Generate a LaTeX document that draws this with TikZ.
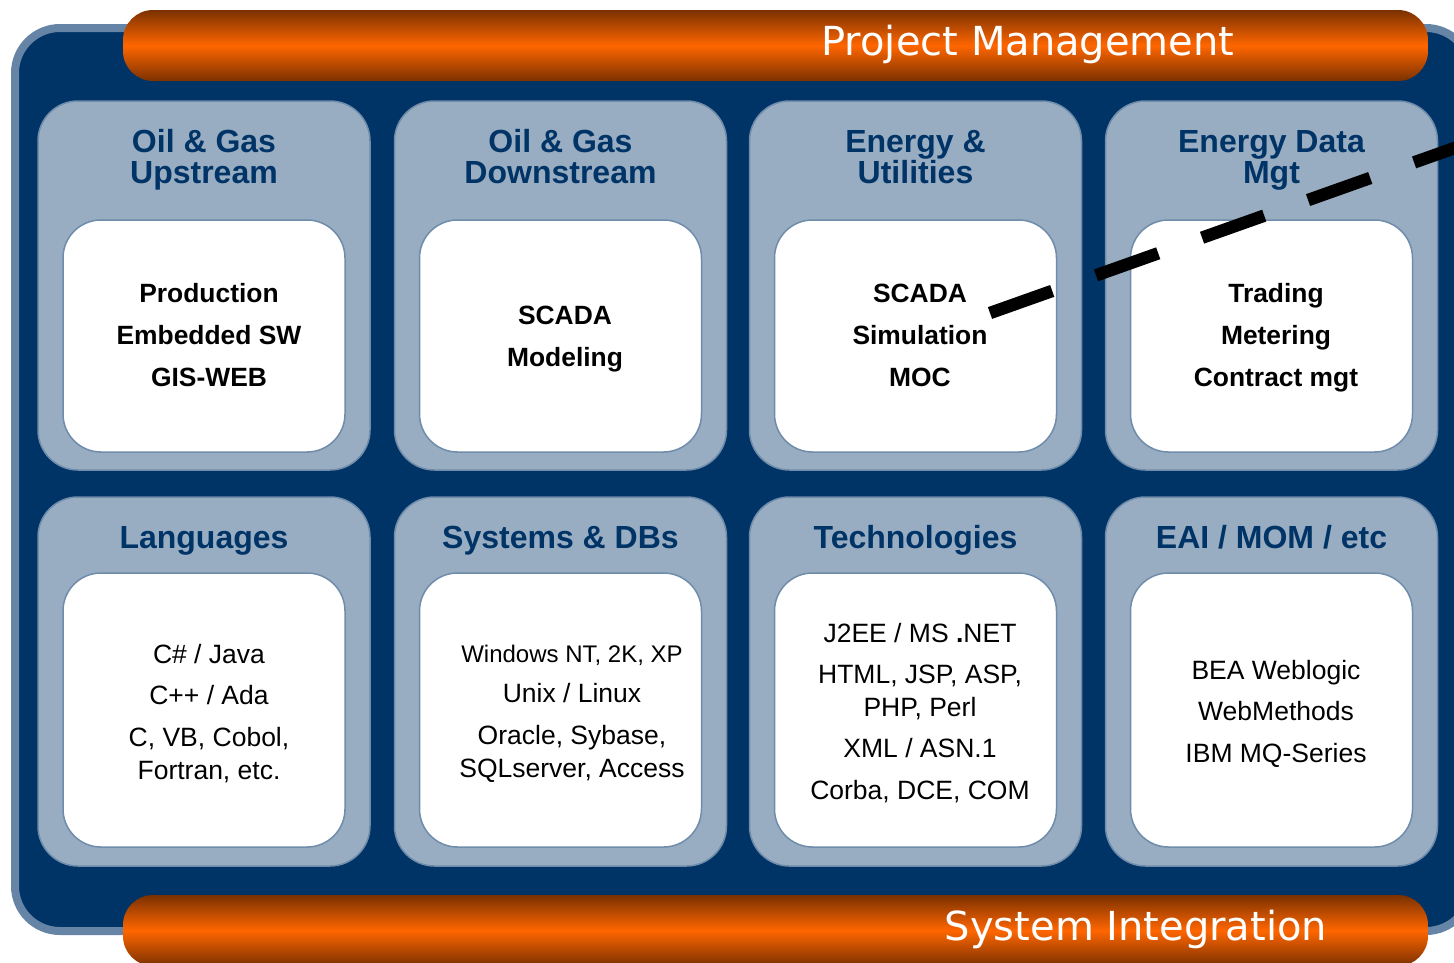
\documentclass[tikz,border=0pt]{standalone}
\usepackage{fontspec}
\setmainfont{Liberation Sans}
\newfontfamily\barfont{DejaVu Sans}
\definecolor{navy}{HTML}{003366}
\definecolor{rim}{HTML}{6685A6}
\definecolor{panelfill}{HTML}{98ADC2}
\definecolor{panelrim}{HTML}{6F8CAB}
\definecolor{orangemid}{HTML}{FF6600}
\definecolor{orangedark}{HTML}{7A3000}
\tikzset{
  panel/.style={rectangle, rounded corners=40, fill=panelfill, draw=panelrim, line width=1.5,
    minimum width=332, minimum height=369, inner sep=0},
  innerbox/.style={rectangle, rounded corners=38, fill=white, draw=panelrim, line width=1.5,
    minimum width=282, inner sep=0},
  title/.style={text=navy, font=\bfseries\fontsize{32}{31}\selectfont, align=center},
  boldtxt/.style={text=black, font=\bfseries\fontsize{26.4}{42}\selectfont, align=center},
  plaintxt/.style={text=black, font=\fontsize{26.5}{33}\selectfont, align=center},
  bar/.style={rectangle, rounded corners=30, minimum width=1305, minimum height=71, inner sep=0,
    top color=orangedark, bottom color=orangedark, middle color=orangemid},
  bartext/.style={text=white, font=\barfont\fontsize{40}{40}\selectfont, anchor=base},
  dashline/.style={line width=12.5, dash pattern=on 66 off 46.5, line cap=butt}
}
\begin{document}
\begin{tikzpicture}[x=1pt,y=-1pt]
\useasboundingbox (0,0) rectangle (1454,962);
\clip (0,0) rectangle (1454,962);
% outer frame
\draw[fill=navy, draw=rim, line width=8, rounded corners=45] (15,28) rectangle (1471,931);
% bars
\node[bar] (pm) at (775.5,45.5) {};
\node[bar] (si) at (775.5,930.5) {};
\node[bartext] (pmtext) at (1028,55) {Project Management};
\node[bartext] (sitext) at (1136,940) {System Integration};
% panels row 1
\node[panel] (p1) at (204,285.5) {};
\node[panel] (p2) at (560.5,285.5) {};
\node[panel] (p3) at (915.5,285.5) {};
\node[panel] (p4) at (1271.5,285.5) {};
% panels row 2
\node[panel] (q1) at (204,681.5) {};
\node[panel] (q2) at (560.5,681.5) {};
\node[panel] (q3) at (915.5,681.5) {};
\node[panel] (q4) at (1271.5,681.5) {};
% inner boxes row 1
\node[innerbox, minimum height=232] (b1) at (204,336) {};
\node[innerbox, minimum height=232] (b2) at (560.5,336) {};
\node[innerbox, minimum height=232] (b3) at (915.5,336) {};
\node[innerbox, minimum height=232] (b4) at (1271.5,336) {};
% inner boxes row 2
\node[innerbox, minimum height=274] (c1) at (204,710) {};
\node[innerbox, minimum height=274] (c2) at (560.5,710) {};
\node[innerbox, minimum height=274] (c3) at (915.5,710) {};
\node[innerbox, minimum height=274] (c4) at (1271.5,710) {};
% titles
\node[title] (t1) at (204,160) {Oil \& Gas\\Upstream};
\node[title] (t2) at (560.5,157) {Oil \& Gas\\Downstream};
\node[title] (t3) at (915.5,157) {Energy \&\\Utilities};
\node[title] (t4) at (1271.5,160) {Energy Data\\Mgt};
\node[title] (u1) at (204,541) {Languages};
\node[title] (u2) at (560.5,541) {Systems \& DBs};
\node[title] (u3) at (915.5,540.5) {Technologies};
\node[title] (u4) at (1271.5,537) {EAI / MOM / etc};
% row 1 contents
\node[boldtxt] (x1) at (209,335.5) {Production\\Embedded SW\\GIS-WEB};
\node[boldtxt] (x2) at (565,339) {SCADA\\Modeling};
\node[boldtxt] (x3) at (920,335.5) {SCADA\\Simulation\\MOC};
\node[boldtxt] (x4) at (1276,337.5) {Trading\\Metering\\Contract mgt};
% row 2 contents
\node[plaintxt] (y1) at (209,713.5) {C\# / Java\\[8pt]C++ / Ada\\[9pt]C, VB, Cobol,\\Fortran, etc.};
\node[plaintxt] (y2) at (572,714) {{\fontsize{24}{33}\selectfont Windows NT, 2K, XP}\\[7pt]Unix / Linux\\[9pt]Oracle, Sybase,\\SQLserver, Access};
\node[plaintxt] (y3) at (920,713.5) {J2EE / MS {\bfseries .}NET\\[8pt]HTML, JSP, ASP,\\PHP, Perl\\[8pt]XML / ASN.1\\[9pt]Corba, DCE, COM};
\node[plaintxt, font=\fontsize{26.5}{41.5}\selectfont] (y4) at (1276,713.5) {BEA Weblogic\\WebMethods\\IBM MQ-Series};
% dashed line
\coordinate (dashA) at (990,313);
\coordinate (dashB) at (1480,139);
\draw[dashline] (dashA) -- (dashB);
\end{tikzpicture}
\end{document}
